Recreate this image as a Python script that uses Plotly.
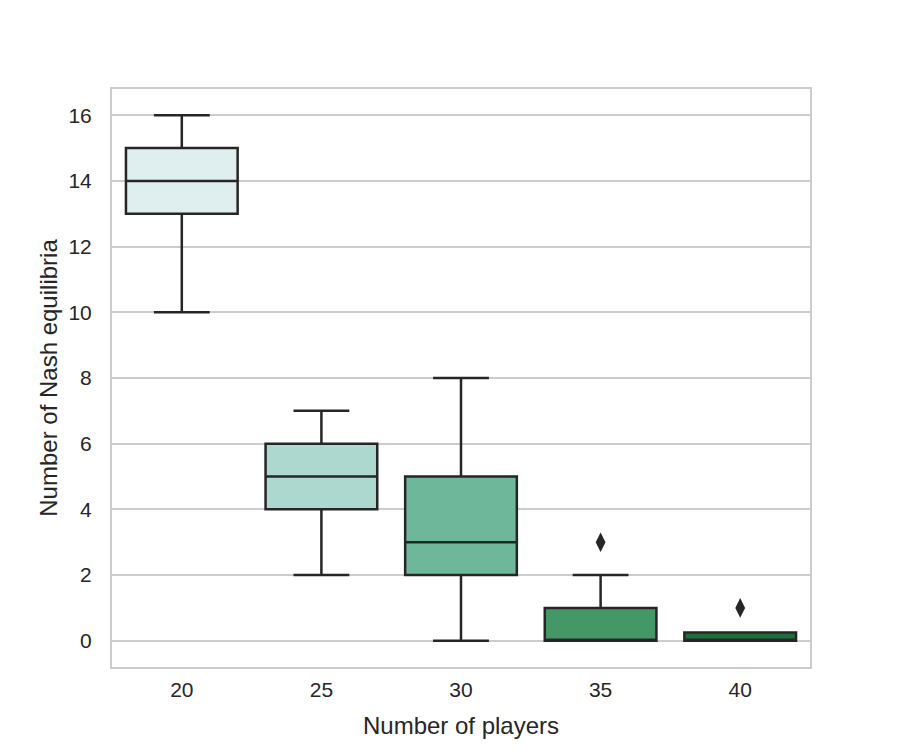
import plotly.graph_objects as go

players = ["20", "25", "30", "35", "40"]
q1 = [13, 4, 2, 0, 0]
median = [14, 5, 3, 0, 0]
q3 = [15, 6, 5, 1, 0.25]
lower = [10, 2, 0, 0, 0]
upper = [16, 7, 8, 2, 0.25]
colors = ["#dfeeee", "#acd8cf", "#6fb79b", "#449866", "#1d6e3a"]
outlier_x = ["35", "40"]
outlier_y = [3, 1]

fig = go.Figure()
for i, p in enumerate(players):
    fig.add_trace(go.Box(
        x=[p], q1=[q1[i]], median=[median[i]], q3=[q3[i]],
        lowerfence=[lower[i]], upperfence=[upper[i]],
        fillcolor=colors[i], line=dict(color="#262626", width=2.5),
        width=0.8, whiskerwidth=0.5, boxpoints=False, showlegend=False,
    ))
fig.add_trace(go.Scatter(
    x=outlier_x, y=outlier_y, mode="markers",
    marker=dict(symbol="diamond-tall", size=14, color="#262626"),
    showlegend=False,
))

fig.update_layout(
    width=900, height=750,
    margin=dict(l=112, r=90, t=89, b=83),
    plot_bgcolor="white", paper_bgcolor="white",
    font=dict(family="Liberation Sans, Arial, sans-serif", color="#262626", size=21),
    boxmode="overlay",
)
fig.update_xaxes(
    type="category", categoryorder="array", categoryarray=players,
    range=[-0.5, 4.5], showgrid=False,
    showline=True, mirror=True, linecolor="#cccccc", linewidth=2,
    ticks="outside", ticklen=3, tickcolor="rgba(0,0,0,0)",
    title=dict(text="Number of players", font=dict(size=24), standoff=17),
    zeroline=False,
)
fig.update_yaxes(
    range=[-0.8, 16.8], tickvals=[0, 2, 4, 6, 8, 10, 12, 14, 16],
    showgrid=True, gridcolor="#cccccc", gridwidth=1.5,
    showline=True, mirror=True, linecolor="#cccccc", linewidth=2,
    ticks="outside", ticklen=14, tickcolor="rgba(0,0,0,0)",
    title=dict(text="Number of Nash equilibria", font=dict(size=24), standoff=4),
    zeroline=False,
)

fig.write_html("out.html")
